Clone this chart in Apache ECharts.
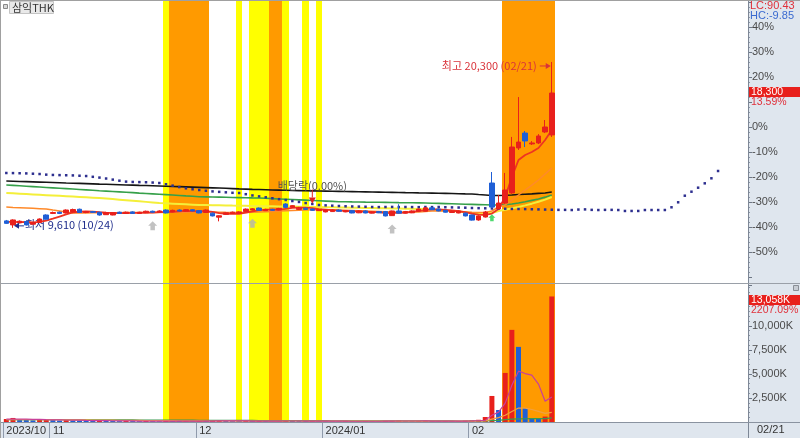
<!DOCTYPE html>
<html><head><meta charset="utf-8">
<script src="https://cdn.jsdelivr.net/npm/echarts@6/dist/echarts.min.js"></script>
<style>html,body{margin:0;padding:0;background:#fff}#c{width:800px;height:438px}</style>
</head><body><div id="c"></div>
<script>
const stockName = '삼익THK';
const dates = [
'2023/10/23','2023/10/24','2023/10/25','2023/10/26','2023/10/27','2023/10/30','2023/10/31',
'2023/11/01','2023/11/02','2023/11/03','2023/11/06','2023/11/07','2023/11/08','2023/11/09','2023/11/10','2023/11/13','2023/11/14','2023/11/15','2023/11/16','2023/11/17','2023/11/20','2023/11/21','2023/11/22','2023/11/23','2023/11/24','2023/11/27','2023/11/28','2023/11/29','2023/11/30',
'2023/12/01','2023/12/04','2023/12/05','2023/12/06','2023/12/07','2023/12/08','2023/12/11','2023/12/12','2023/12/13','2023/12/14','2023/12/15','2023/12/18','2023/12/19','2023/12/20','2023/12/21','2023/12/22','2023/12/26','2023/12/27','2023/12/28',
'2024/01/02','2024/01/03','2024/01/04','2024/01/05','2024/01/08','2024/01/09','2024/01/10','2024/01/11','2024/01/12','2024/01/15','2024/01/16','2024/01/17','2024/01/18','2024/01/19','2024/01/22','2024/01/23','2024/01/24','2024/01/25','2024/01/26','2024/01/29','2024/01/30','2024/01/31',
'2024/02/01','2024/02/02','2024/02/05','2024/02/06','2024/02/07','2024/02/08','2024/02/13','2024/02/14','2024/02/15','2024/02/16','2024/02/19','2024/02/20','2024/02/21'];
const opens = [10060,9800,9930,10020,9850,9960,10440,10540,10620,10570,10640,10810,10600,10660,10620,10460,10440,10620,10540,10640,10540,10580,10680,10620,10760,10640,10760,10690,10780,10720,10600,10560,10300,10480,10540,10560,10660,10760,10890,10720,10800,10760,11150,10940,10800,10880,10820,10720,10640,10660,10760,10640,10720,10580,10700,10560,10660,10660,10400,10700,10560,10580,10680,10680,10900,10820,10740,10600,10570,10560,10440,10120,10310,12500,10830,11210,11860,14760,15720,15020,15080,15790,15600];
const highs = [10120,10160,10090,10060,9990,10220,10480,10660,10660,10800,10850,10850,10700,10700,10650,10640,10620,10660,10660,10680,10650,10720,10720,10740,10800,10780,10800,10810,10820,10760,10800,10600,10420,10620,10660,10680,10860,10880,10920,10840,10840,10900,11200,11080,10960,10920,10860,10820,10800,10800,10800,10760,10760,10740,10740,10680,10700,10700,10720,11130,10700,10740,10860,10940,10940,10860,10780,10720,10740,10600,10460,10420,10700,13210,11730,13150,15470,18040,15850,15200,15650,16560,20300];
const lows = [9870,9610,9900,9770,9820,9930,10140,10500,10500,10540,10600,10570,10560,10580,10400,10440,10420,10520,10520,10520,10520,10560,10590,10600,10540,10620,10670,10670,10680,10550,10580,10350,10030,10460,10520,10540,10640,10740,10720,10700,10720,10740,10900,10900,10760,10780,10720,10700,10610,10640,10660,10620,10550,10560,10550,10540,10560,10350,10380,10540,10540,10560,10660,10660,10760,10680,10600,10580,10550,10350,10080,10070,10280,10900,10800,11150,11800,14630,14820,14950,15010,15720,15470];
const closes = [9900,10120,10040,9800,9950,10180,10170,10600,10540,10760,10790,10600,10660,10610,10440,10600,10590,10540,10620,10540,10620,10680,10620,10700,10570,10740,10690,10780,10700,10570,10760,10380,10390,10580,10620,10640,10820,10840,10740,10800,10740,10860,10930,11040,10880,10800,10740,10790,10760,10760,10680,10720,10570,10700,10570,10640,10580,10380,10700,10560,10660,10700,10820,10900,10780,10700,10620,10680,10700,10380,10110,10380,10630,10950,11210,12050,14820,15140,15210,15080,15530,16110,18300];
const volumeK = [310,420,260,230,180,240,290,200,150,210,170,140,120,110,160,130,100,90,110,95,85,100,90,80,120,95,85,90,80,100,90,150,180,110,90,85,120,95,100,85,80,90,160,110,95,80,100,90,85,80,75,90,80,85,90,80,75,110,130,150,90,80,95,110,85,80,90,85,95,140,180,230,520,2708,1250,5104,9583,7813,1458,417,400,565.994,13058];
const maBlack = [12630,12615,12600,12590,12575,12560,12545,12530,12515,12500,12490,12475,12460,12445,12430,12420,12405,12390,12375,12365,12350,12340,12325,12310,12295,12280,12265,12250,12235,12220,12205,12190,12175,12160,12140,12120,12105,12090,12080,12065,12050,12040,12030,12020,12010,12000,11995,11985,11975,11965,11960,11950,11945,11935,11930,11921,11915,11905,11900,11890,11880,11875,11865,11857,11850,11840,11830,11820,11810,11800,11793,11760,11730,11700,11700,11710,11730,11760,11780,11800,11830,11860,11920];
const maGreen = [12372,12346,12320,12294,12268,12242,12216,12190,12164,12138,12112,12086,12060,12032,12005,11980,11955,11930,11905,11880,11850,11825,11800,11775,11750,11725,11700,11670,11645,11619,11610,11600,11590,11580,11570,11560,11550,11540,11535,11515,11495,11475,11455,11435,11415,11395,11375,11355,11335,11315,11296,11290,11283,11277,11270,11264,11258,11251,11245,11238,11232,11226,11220,11213,11200,11187,11174,11161,11148,11135,11122,11110,11097,11084,11090,11110,11148,11210,11290,11380,11470,11590,11728];
const maYellow = [11857,11834,11811,11788,11765,11742,11719,11696,11673,11650,11627,11604,11581,11558,11535,11500,11464,11428,11392,11356,11320,11285,11249,11213,11190,11170,11148,11126,11105,11084,11077,11070,11063,11056,11048,11041,11034,11026,11019,11011,11003,10995,10987,10979,10971,10963,10955,10947,10939,10931,10923,10916,10908,10901,10893,10886,10878,10871,10863,10856,10848,10841,10833,10826,10790,10755,10720,10697,10660,10615,10568,10560,10565,10570,10697,10780,10870,10955,11060,11170,11290,11430,11599];
const maOrange = [10955,10930,10910,10890,10870,10850,10826,10760,10700,10630,10568,10570,10575,10580,10585,10588,10590,10592,10594,10596,10598,10600,10603,10606,10610,10614,10618,10622,10626,10630,10634,10630,10622,10610,10600,10598,10605,10615,10630,10650,10670,10690,10710,10730,10745,10760,10770,10775,10775,10770,10760,10745,10730,10715,10700,10685,10670,10655,10640,10635,10630,10635,10640,10660,10690,10700,10700,10690,10670,10640,10610,10600,10600,10697,10955,11084,11400,11728,12050,12370,12695,13080,13468];
const maRed = [10000,9990,9980,9990,9960,10000,10080,10200,10340,10480,10610,10650,10670,10660,10620,10590,10570,10560,10560,10580,10580,10590,10600,10620,10620,10650,10680,10700,10690,10680,10690,10640,10560,10520,10520,10510,10600,10680,10740,10780,10790,10780,10840,10900,10920,10920,10880,10810,10790,10760,10720,10710,10680,10670,10650,10630,10620,10560,10580,10570,10590,10640,10700,10750,10800,10800,10770,10730,10680,10620,10520,10460,10440,10530,10826,11599,12888,13983,14306,14499,14757,15272,15917];
const leadSpan = [13146,13140,13130,13120,13100,13080,13040,13020,13010,13000,12990,12970,12950,12900,12850,12790,12720,12650,12590,12570,12560,12550,12530,12501,12420,12330,12240,12160,12100,12050,12000,11960,11930,11900,11870,11857,11780,11700,11640,11580,11520,11460,11406,11340,11280,11210,11150,11084,11060,11040,11020,11000,10990,10980,10970,10955,10950,10955,10960,10950,10955,10950,10945,10955,10950,10955,10940,10930,10920,10910,10890,10880,10870,10860,10850,10840,10830,10826,10820,10810,10800,10790,10780,10770,10770,10760,10790,10800,10770,10760,10770,10770,10760,10700,10700,10700,10760,10761,10760,10761,10936,11258,11683,11941,12199,12480,12804,13275];
const volMa5 = [300,310,300,290,280,270,240,230,220,210,200,190,160,150,140,135,130,120,115,110,100,95,95,90,95,95,95,95,90,95,95,100,110,115,120,120,115,100,100,95,95,90,105,105,105,100,105,100,95,90,85,85,80,80,80,80,80,85,90,105,105,105,105,110,100,90,90,85,85,95,110,130,170,700,1030,1960,3830,5290,5040,4880,3950,2150,2600];
const volMa20 = [250,250,248,246,244,242,240,236,232,228,224,220,214,208,202,196,190,184,178,172,165,158,152,146,140,134,128,122,116,110,105,104,106,108,107,106,105,104,103,102,101,100,102,103,103,102,101,100,99,98,97,96,95,94,93,92,92,93,94,95,95,94,94,95,95,94,93,93,94,96,100,106,125,300,450,700,1100,1450,1450,1300,1100,900,1000];
const volMa60 = [240,240,239,238,237,236,235,234,233,232,230,228,226,224,222,220,218,216,214,212,210,207,204,201,198,195,192,189,186,183,180,177,174,171,168,165,162,159,156,153,150,148,146,144,142,140,138,136,134,132,130,128,126,124,122,120,118,117,116,115,114,113,112,111,110,109,108,107,106,106,107,108,112,150,165,240,300,330,340,345,350,355,420];
const tickDates = ['2023/10/23','2023/11/01','2023/12/01','2024/01/02','2024/02/01'];
const tickTexts = ['2023/10','11','12','2024/01','02'];
const yellowDays = [24,35,37,38,39,42,45,47];
const orangeDays = [25,26,27,28,29,30,40,41,75,76,77,78,79,80,81,82];
const greyMarkerDays = [22,37,58];
const greenMarkerDays = [73];
const exDivDay = 46;
const exDivText = '배당락(0.00%)';

const RED = '#e8201c', BLUE = '#1f5fd6';
const N = 112;
const cats = dates.concat(Array.from({length: N - dates.length}, (_, i) => 'f' + i));
const BASE = closes[closes.length - 2];
const pct = p => (p / BASE - 1) * 100;
const fmt = n => Math.round(n).toLocaleString('en-US');
const NUMFONT = "'Liberation Sans Narrow','Arial Narrow','Liberation Sans','Noto Sans CJK KR',sans-serif";
const KRFONT = "'Liberation Sans Narrow','Noto Sans CJK KR',sans-serif";
const lastPct = pct(closes[closes.length - 1]);

const candleData = dates.map((d, i) => [pct(opens[i]), pct(closes[i]), pct(lows[i]), pct(highs[i])]);
const volData = volumeK.map((v, i) => ({value: v, itemStyle: {color: (i === 0 || v > volumeK[i - 1]) ? RED : BLUE}}));
const bandData = [];
cats.forEach((c, i) => {
  if (orangeDays.includes(i)) bandData.push([i, 1, 1]);
  else if (yellowDays.includes(i)) bandData.push([i, 1, 0]);
});
const arrowPath = 'path://M5,0 L10,5 L7.5,5 L7.5,10 L2.5,10 L2.5,5 L0,5 Z';
const tickIdx = tickDates.map(d => dates.indexOf(d));
const isTick = i => tickIdx.includes(i);

const line = (data, color, width, xi, yi, z) => ({type: 'line', data: data, xAxisIndex: xi, yAxisIndex: yi,
  showSymbol: false, lineStyle: {color: color, width: width}, silent: true, z: z || 3});

const chart = echarts.init(document.getElementById('c'), null, {renderer: 'canvas'});
const option = {
  animation: false,
  backgroundColor: '#ffffff',
  grid: [
    {left: 3, right: 52, top: 2, height: 275},
    {left: 3, right: 52, top: 285, height: 137},
    {left: 3, right: 52, top: 0, height: 422}
  ],
  xAxis: [
    {type: 'category', gridIndex: 0, data: cats, boundaryGap: true, show: false},
    {type: 'category', gridIndex: 1, data: cats, boundaryGap: true,
      axisLine: {show: true, lineStyle: {color: '#8a93a0'}},
      axisTick: {show: true, interval: (i) => isTick(i), length: 16, lineStyle: {color: '#8f9aab'}},
      axisLabel: {interval: (i) => isTick(i), formatter: (v, i) => tickTexts[tickIdx.indexOf(i)] || '',
        align: 'left', color: '#333', fontSize: 11, fontFamily: NUMFONT, margin: 3}},
    {type: 'category', gridIndex: 2, data: cats, boundaryGap: true, show: false}
  ],
  yAxis: [
    {type: 'value', gridIndex: 0, position: 'right', min: -60, max: 50, interval: 10,
      axisLine: {show: true, lineStyle: {color: '#6d7684'}},
      axisTick: {show: true, length: 4, lineStyle: {color: '#6d7684'}},
      minorTick: {show: true, splitNumber: 5, length: 2, lineStyle: {color: '#8d96a4'}},
      splitLine: {show: false},
      axisLabel: {formatter: v => (v >= -50 && v <= 40 && !(v < lastPct && v > lastPct - 6)) ? v + '%' : '',
        color: '#4a4a4a', fontSize: 11, fontFamily: NUMFONT, margin: 4}},
    {type: 'value', gridIndex: 1, position: 'right', min: 0, max: 14250, interval: 2500,
      axisLine: {show: true, lineStyle: {color: '#6d7684'}},
      axisTick: {show: true, length: 4, lineStyle: {color: '#6d7684'}},
      minorTick: {show: true, splitNumber: 5, length: 2, lineStyle: {color: '#8d96a4'}},
      splitLine: {show: false},
      axisLabel: {formatter: v => (v > 0 && v <= 10000) ? fmt(v) + 'K' : '', color: '#4a4a4a', fontSize: 11, fontFamily: NUMFONT, margin: 4}},
    {type: 'value', gridIndex: 2, min: 0, max: 1, show: false}
  ],
  series: [
    {type: 'custom', xAxisIndex: 2, yAxisIndex: 2, data: bandData, silent: true, z: 0,
      renderItem: (params, api) => {
        const top = api.coord([api.value(0), 1]);
        const bot = api.coord([api.value(0), 0]);
        const w = api.size([1, 0])[0];
        const x0 = Math.round(top[0] - w / 2), x1 = Math.round(top[0] + w / 2);
        return {type: 'rect', shape: {x: x0, y: top[1], width: x1 - x0, height: bot[1] - top[1]},
          style: {fill: api.value(2) ? '#ff9a00' : '#ffff00'}};
      }},
    line(maBlack.map(pct), '#151515', 1.6, 0, 0),
    line(maGreen.map(pct), '#36a04a', 1.6, 0, 0),
    line(maYellow.map(pct), '#f4ef3a', 2, 0, 0),
    line(maOrange.map(pct), '#ff8a2a', 1.5, 0, 0),
    {type: 'line', data: leadSpan.map(pct), xAxisIndex: 0, yAxisIndex: 0, showSymbol: true, showAllSymbol: true,
      symbol: 'rect', symbolSize: 2.5, itemStyle: {color: '#2d2f8f'}, lineStyle: {width: 0, opacity: 0}, silent: true, z: 3},
    line(maRed.map(pct), '#ee3322', 1.8, 0, 0, 3),
    {type: 'candlestick', xAxisIndex: 0, yAxisIndex: 0, data: candleData, barWidth: 5, silent: true, z: 4,
      itemStyle: {color: RED, color0: BLUE, borderColor: RED, borderColor0: BLUE, borderWidth: 1}},
    {type: 'scatter', xAxisIndex: 0, yAxisIndex: 0, symbol: arrowPath, symbolSize: [9, 9], symbolOffset: [0, 13],
      data: greyMarkerDays.map(i => [i, pct(lows[i])]), itemStyle: {color: '#b3b3b3'}, silent: true, z: 5},
    {type: 'scatter', xAxisIndex: 0, yAxisIndex: 0, symbol: arrowPath, symbolSize: [7, 7], symbolOffset: [0, 10],
      data: greenMarkerDays.map(i => [i, pct(lows[i])]), itemStyle: {color: '#22d04a'}, silent: true, z: 5},
    {type: 'bar', xAxisIndex: 1, yAxisIndex: 1, data: volData, barWidth: 5, silent: true, z: 3},
    line(volMa60, '#3a9a50', 1.2, 1, 1),
    line(volMa20, '#f0a040', 1.2, 1, 1),
    line(volMa5, '#c8409a', 1.2, 1, 1)
  ]
};
chart.setOption(option);

const last = dates.length - 1;
const P = (i, v) => chart.convertToPixel({xAxisIndex: 0, yAxisIndex: 0}, [i, v]);
const PV = (i, v) => chart.convertToPixel({xAxisIndex: 1, yAxisIndex: 1}, [i, v]);
const minLow = Math.min(...lows), maxHigh = Math.max(...highs);
const iMin = lows.indexOf(minLow), iMax = highs.indexOf(maxHigh);
const lastClose = closes[last];
const [, yC] = P(last, pct(lastClose));
const [xH, yH] = P(iMax, pct(maxHigh));
const [xL, yL] = P(iMin, pct(minLow));
const [xD, yD] = P(exDivDay, pct(highs[exDivDay]));
const [, yV] = PV(last, volumeK[last]);
const md = d => d.slice(5);
const txt = (x, y, text, fill, size, font, align, extra) => Object.assign({type: 'text', x: x, y: y, silent: true,
  style: {text: text, fill: fill, font: size + 'px ' + font, textAlign: align || 'left', textVerticalAlign: 'middle'}}, extra || {});

const g = [
  {type: 'rect', shape: {x: 748, y: 0, width: 52, height: 438}, style: {fill: '#dfe6ee'}, z: -10, silent: true},
  {type: 'rect', shape: {x: 0, y: 422, width: 748, height: 16}, style: {fill: '#dfe6ee'}, z: -10, silent: true},
  {type: 'line', shape: {x1: 748.5, y1: 0, x2: 748.5, y2: 438}, style: {stroke: '#7d8796', lineWidth: 1}, z: 50, silent: true},
  {type: 'line', shape: {x1: 0, y1: 283.5, x2: 800, y2: 283.5}, style: {stroke: '#9aa0a8', lineWidth: 1}, z: 50, silent: true},
  {type: 'line', shape: {x1: 0, y1: 422.5, x2: 800, y2: 422.5}, style: {stroke: '#8a93a0', lineWidth: 1}, z: 50, silent: true},
  {type: 'line', shape: {x1: 0, y1: 0.5, x2: 800, y2: 0.5}, style: {stroke: '#a0a0a0', lineWidth: 1}, z: 50, silent: true},
  {type: 'line', shape: {x1: 0.5, y1: 0, x2: 0.5, y2: 438}, style: {stroke: '#a0a0a0', lineWidth: 1}, z: 50, silent: true},
  // title box
  {type: 'rect', shape: {x: 3.5, y: 4.5, width: 4, height: 4}, style: {fill: '#d8d8d8', stroke: '#888', lineWidth: 1}, z: 50, silent: true},
  {type: 'rect', shape: {x: 9.5, y: 1.5, width: 44, height: 12}, style: {fill: '#e9e9e9', stroke: '#c4c4c4', lineWidth: 1}, z: 50, silent: true},
  txt(12, 8, stockName, '#333', 11, KRFONT, 'left', {z: 51}),
  // LC / HC
  txt(750, 6, 'LC:' + ((lastClose / minLow - 1) * 100).toFixed(2), '#e0303a', 11, NUMFONT, 'left', {z: 51}),
  txt(750, 16, 'HC:' + ((lastClose / maxHigh - 1) * 100).toFixed(2), '#3a6ad0', 11, NUMFONT, 'left', {z: 51}),
  // price box
  {type: 'rect', shape: {x: 749, y: Math.round(yC) - 6, width: 51, height: 10}, style: {fill: '#e8201c'}, z: 51, silent: true},
  txt(751, Math.round(yC) - 1, fmt(lastClose), '#ffffff', 10.5, NUMFONT, 'left', {z: 52}),
  txt(751, Math.round(yC) + 9, ((lastClose / BASE - 1) * 100).toFixed(2) + '%', '#e0303a', 10.5, NUMFONT, 'left', {z: 52}),
  // volume box
  {type: 'rect', shape: {x: 749, y: Math.round(yV) - 1, width: 51, height: 10}, style: {fill: '#e8201c'}, z: 51, silent: true},
  txt(751, Math.round(yV) + 4, fmt(volumeK[last]) + 'K', '#ffffff', 10.5, NUMFONT, 'left', {z: 52}),
  txt(751, Math.round(yV) + 14, ((volumeK[last] / volumeK[last - 1] - 1) * 100).toFixed(2) + '%', '#e0303a', 10.5, NUMFONT, 'left', {z: 52}),
  {type: 'rect', shape: {x: 793.5, y: 285.5, width: 5, height: 5}, style: {fill: '#c8cdd4', stroke: '#8a8f96', lineWidth: 1}, z: 51, silent: true},
  // last date
  txt(757, 430, md(dates[last]), '#333', 11, NUMFONT, 'left', {z: 52}),
  // max label
  txt(xH - 15, yH + 4, '최고 ' + fmt(maxHigh) + ' (' + md(dates[iMax]) + ')', '#d9333a', 11, KRFONT, 'right', {z: 20}),
  {type: 'line', shape: {x1: xH - 12, y1: yH + 4, x2: xH - 5, y2: yH + 4}, style: {stroke: '#d9333a', lineWidth: 1}, z: 20, silent: true},
  {type: 'polygon', shape: {points: [[xH - 6, yH + 1], [xH - 1, yH + 4], [xH - 6, yH + 7]]}, style: {fill: '#d9333a'}, z: 20, silent: true},
  // min label
  {type: 'polygon', shape: {points: [[xL + 1, yL - 2], [xL + 6, yL - 5], [xL + 6, yL + 1]]}, style: {fill: '#1f2d8c'}, z: 20, silent: true},
  {type: 'line', shape: {x1: xL + 5, y1: yL - 2, x2: xL + 11, y2: yL - 2}, style: {stroke: '#1f2d8c', lineWidth: 1}, z: 20, silent: true},
  txt(xL + 12, yL - 3, '최저 ' + fmt(minLow) + ' (' + md(dates[iMin]) + ')', '#1f2d8c', 11, KRFONT, 'left', {z: 2}),
  // ex-dividend
  txt(xD, yD - 23, exDivText, '#505050', 11, KRFONT, 'center', {z: 20}),
  {type: 'line', shape: {x1: xD, y1: yD - 19, x2: xD, y2: yD - 11}, style: {stroke: '#e02020', lineWidth: 1}, z: 20, silent: true},
  {type: 'polygon', shape: {points: [[xD - 3.5, yD - 11], [xD + 3.5, yD - 11], [xD, yD - 5]]}, style: {fill: '#e02020'}, z: 20, silent: true}
];
chart.setOption({graphic: g});
</script></body></html>
